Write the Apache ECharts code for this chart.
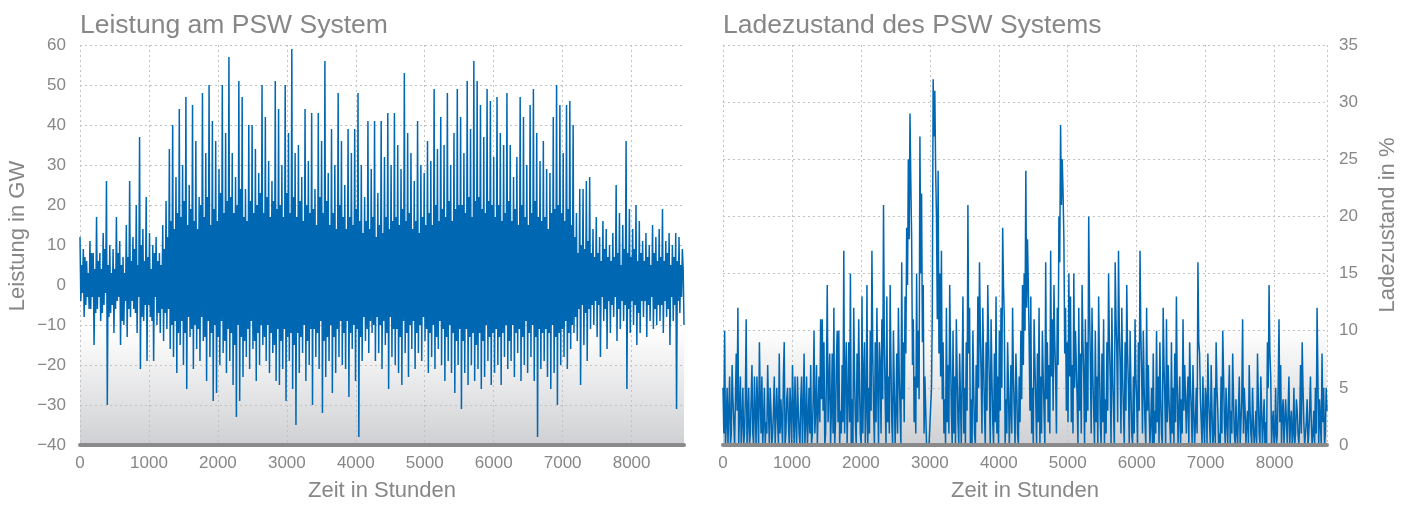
<!DOCTYPE html>
<html>
<head>
<meta charset="utf-8">
<script src="https://cdn.jsdelivr.net/npm/echarts@6/dist/echarts.min.js"></script>
<style>
  html, body { margin: 0; padding: 0; background: #fff; }
  #chart { width: 1410px; height: 507px; }
</style>
</head>
<body>
<div id="chart"></div>
<script>
// two samples per day (hour of the year)
const HOUR_STEP = 12;
const hourTicks = [0, 1000, 2000, 3000, 4000, 5000, 6000, 7000, 8000];

// Leistung am PSW System, GW (one row = 240 h)
const powerGW = [
  12,-4,5,-2,9,-8,7,-5,6,-3,3,-6,11,-6,8,-3,8,-15,4,-7,
  17,-6,6,-3,8,-9,4,-7,13,-5,9,-2,26,-30,5,-8,10,-7,3,-5,
  9,-12,4,-6,17,-4,8,-3,11,-15,5,-9,7,-10,3,-4,15,-13,7,-6,
  26,-8,6,-4,12,-6,9,-7,20,-12,5,-3,37,-21,10,-8,14,-9,6,-5,
  22,-19,7,-5,13,-8,4,-9,10,-19,8,-3,12,-10,6,-7,8,-12,5,-6,
  15,-14,9,-7,21,-11,12,-6,34,-16,16,-10,40,-18,14,-9,27,-22,18,-12,
  44,-15,17,-9,30,-20,21,-12,47,-26,15,-8,25,-13,19,-11,45,-21,16,-10,
  36,-16,14,-11,22,-19,20,-8,48,-14,17,-13,33,-24,22,-9,50,-18,15,-12,
  41,-29,19,-10,36,-27,16,-13,29,-20,23,-9,50,-17,18,-14,38,-22,21,-11,
  57,-19,22,-12,33,-25,18,-15,27,-33,20,-10,51,-29,24,-13,47,-23,17,-14,
  24,-18,16,-11,40,-21,21,-9,40,-16,18,-14,34,-24,20,-12,28,-20,23,-10,
  50,-15,18,-13,42,-19,22,-10,31,-22,17,-12,26,-17,21,-15,51,-24,19,-11,
  44,-25,20,-14,30,-21,17,-11,50,-29,23,-13,38,-19,18,-12,59,-26,22,-15,
  33,-35,17,-12,35,-22,21,-13,27,-17,16,-10,44,-24,20,-14,31,-20,18,-11,
  43,-30,19,-11,24,-18,15,-12,43,-21,22,-9,36,-32,18,-14,56,-23,21,-13,
  28,-19,15,-10,39,-27,18,-13,30,-22,14,-11,48,-18,20,-9,36,-20,17,-12,
  25,-21,14,-9,39,-28,17,-12,33,-16,15,-10,39,-24,19,-11,48,-38,16,-13,
  30,-19,13,-8,22,-14,16,-11,41,-17,14,-9,29,-12,17,-10,41,-19,12,-8,
  23,-17,15,-10,41,-21,13,-9,32,-15,17,-12,43,-26,14,-8,30,-18,16,-11,
  43,-20,17,-11,35,-22,15,-13,29,-25,19,-9,53,-17,16,-12,38,-23,18,-10,
  33,-16,14,-9,26,-21,16,-12,41,-17,13,-10,30,-19,17,-8,28,-14,15,-11,
  36,-22,18,-12,31,-18,15,-10,49,-21,20,-13,34,-16,16,-9,42,-20,19,-11,
  35,-24,17,-13,48,-19,21,-10,30,-22,16,-12,38,-27,19,-14,49,-20,20,-11,
  42,-31,20,-14,33,-22,18,-11,51,-25,22,-13,39,-20,17,-12,56,-24,21,-15,
  51,-21,22,-12,45,-26,19,-14,37,-23,18,-10,49,-19,21,-13,46,-25,20,-12,
  32,-22,17,-11,47,-20,20,-13,38,-25,16,-12,35,-18,18,-10,48,-21,21,-14,
  35,-19,16,-10,27,-23,19,-12,32,-17,15,-11,47,-24,20,-13,42,-20,17,-9,
  30,-22,15,-12,45,-18,18,-10,49,-24,21,-13,38,-38,17,-11,31,-21,16,-12,
  36,-19,17,-11,29,-23,14,-12,28,-26,18,-10,42,-22,19,-13,50,-30,20,-12,
  45,-20,18,-11,33,-18,16,-9,45,-21,19,-12,46,-16,15,-10,40,-12,12,-8,
  18,-14,8,-6,24,-25,10,-5,24,-15,9,-7,26,-19,11,-6,27,-11,8,-5,
  14,-10,7,-4,17,-13,8,-5,12,-18,6,-3,16,-9,9,-6,14,-16,7,-4,
  10,-12,6,-5,13,-8,7,-3,25,-14,8,-6,18,-11,5,-4,15,-9,9,-5,
  36,-26,8,-6,19,-12,7,-4,14,-10,9,-5,20,-15,6,-7,16,-12,8,-4,
  11,-8,6,-4,13,-13,7,-5,10,-9,5,-3,15,-11,8,-6,12,-10,6,-5,
  14,-9,7,-5,19,-12,6,-4,11,-8,8,-6,13,-15,5,-3,10,-9,7,-5,
  13,-31,6,-4,12,-7,5,-3,9,4,-10
];

// Ladezustand des PSW Systems, % (one row = 240 h)
const socPercent = [
  5,1,10,0,2,5,0,3,6,0,1,7,4,2,0,4,8,3,12,0,
  3,6,0,2,5,0,1,4,11,0,2,5,0,1,4,7,1,0,6,3,
  0,6,3,0,9,4,1,6,0,2,5,0,2,1,7,3,0,5,3,0,
  1,3,6,0,0,5,2,0,8,1,4,2,0,6,9,0,1,4,5,2,
  0,5,3,0,7,3,0,6,2,0,6,3,1,0,4,6,0,3,8,0,
  2,6,0,2,5,1,7,0,1,4,10,1,3,7,0,3,6,2,11,4,
  11,3,9,0,1,6,14,2,5,8,0,3,8,1,12,0,2,7,10,2,
  10,0,3,1,7,2,17,1,6,9,0,4,9,2,15,0,4,0,12,6,
  2,0,8,2,11,5,1,0,13,1,6,9,0,3,14,0,5,1,10,3,
  17,8,3,0,9,2,12,5,0,9,7,1,11,4,21,9,4,0,13,2,
  6,1,14,7,2,0,10,5,0,3,8,1,12,6,3,0,16,4,9,2,
  13,8,19,14,25,18,29,23,18,7,11,2,6,1,15,5,10,4,27,15,
  22,9,14,1,6,3,0,0,0,0,0,0,5,12,32,27,31,24,20,11,
  24,8,15,6,17,4,9,1,4,0,12,2,7,1,14,8,3,0,10,1,
  6,0,11,6,2,0,8,4,0,6,13,1,5,0,9,3,21,8,12,0,
  4,0,10,5,1,0,7,2,13,5,16,10,6,1,12,7,3,0,9,3,
  14,9,5,0,11,6,2,0,8,2,13,1,6,0,10,3,12,5,19,14,
  11,0,4,1,9,5,0,3,7,1,12,6,3,0,8,5,1,0,6,2,
  10,4,14,7,15,10,24,12,18,14,9,3,13,1,5,0,11,7,4,0,
  8,2,12,0,6,1,10,6,3,0,16,4,9,2,7,1,17,6,11,3,
  14,9,6,1,12,7,20,16,28,21,25,22,18,8,12,3,9,2,15,6,
  13,2,7,1,15,5,10,7,4,0,12,3,8,1,14,9,6,0,11,2,
  9,3,20,12,7,1,12,6,3,0,10,2,6,0,13,7,2,0,8,2,
  11,0,4,1,9,3,15,9,6,0,12,6,3,0,16,11,8,2,17,10,
  7,1,12,6,3,0,9,3,14,8,5,0,10,5,1,0,6,1,11,6,
  4,0,9,3,17,10,6,1,10,5,2,0,12,3,7,3,0,2,5,0,
  8,0,3,1,10,2,6,0,9,4,1,0,12,7,4,0,11,2,7,4,
  2,0,9,1,5,0,8,2,13,5,0,3,6,0,4,1,11,3,7,4,
  1,4,6,0,9,5,3,0,7,3,0,2,5,1,16,9,8,4,2,0,
  6,2,0,5,4,0,8,4,2,0,7,3,0,1,5,0,9,5,3,0,
  1,0,6,1,10,6,2,0,5,2,0,4,7,0,3,1,8,4,1,0,
  4,1,0,3,6,0,2,4,11,1,5,3,0,2,3,0,7,3,1,0,
  5,2,0,1,3,0,8,4,1,0,6,3,0,2,4,0,2,0,9,5,
  14,8,6,0,2,3,0,1,5,0,1,5,11,2,7,0,3,4,0,0,
  4,2,0,3,6,0,2,3,0,1,5,0,1,4,3,1,0,2,7,1,
  9,5,2,0,0,2,4,0,1,3,6,2,0,1,3,0,5,1,12,6,
  0,4,2,0,8,2,5,0,1,5,3
];

const hoursMax = 8760;
const textGrey = '#878787';
const lineBlue = '#0067b2';
const dotted = [2, 3];

const plotBg = {
  type: 'linear', x: 0, y: 0, x2: 0, y2: 1,
  colorStops: [
    { offset: 0, color: '#ffffff' },
    { offset: 0.71, color: '#ffffff' },
    { offset: 1, color: '#cfd0d3' }
  ]
};

const toPairs = arr => arr.map((v, i) => [i * HOUR_STEP, v]);
const minus = v => (v < 0 ? '\u2212' + Math.abs(v) : String(v));

// left chart hides the split line at 8760, right chart keeps it
const leftSplitColors = hourTicks.map(() => '#c2c2c2').concat(['rgba(0,0,0,0)']);

function timeAxis(gridIndex, splitColors) {
  return {
    gridIndex, type: 'value', min: 0, max: hoursMax, interval: 1000,
    name: 'Zeit in Stunden', nameLocation: 'middle', nameGap: 35,
    nameTextStyle: { color: textGrey, fontSize: 22 },
    axisLine: { show: false }, axisTick: { show: false },
    axisLabel: { color: textGrey, fontSize: 17, margin: 10, showMaxLabel: false,
      formatter: v => String(v) },
    splitLine: { show: true, lineStyle: { color: splitColors, type: dotted, width: 1 } }
  };
}
function baseAxis(gridIndex) {
  return {
    gridIndex, type: 'value', min: 0, max: hoursMax, position: 'bottom', z: 10,
    axisLine: { show: true, onZero: false, lineStyle: { color: '#8a8a8a', width: 4 } },
    axisTick: { show: false }, axisLabel: { show: false }, splitLine: { show: false }
  };
}

const chart = echarts.init(document.getElementById('chart'), null, { renderer: 'canvas' });
chart.setOption({
  animation: false,
  textStyle: { fontFamily: 'Liberation Sans' },
  title: [
    { text: 'Leistung am PSW System', left: 75, top: 7,
      textStyle: { color: textGrey, fontSize: 26.5, fontWeight: 'normal' } },
    { text: 'Ladezustand des PSW Systems', left: 718, top: 7,
      textStyle: { color: textGrey, fontSize: 26.5, fontWeight: 'normal' } }
  ],
  grid: [
    { left: 80, top: 45, width: 604, height: 402, show: true, borderWidth: 0, backgroundColor: plotBg },
    { left: 723, top: 45, width: 604, height: 402, show: true, borderWidth: 0, backgroundColor: plotBg }
  ],
  xAxis: [
    timeAxis(0, leftSplitColors), baseAxis(0),
    timeAxis(1, '#c2c2c2'), baseAxis(1)
  ],
  yAxis: [
    { gridIndex: 0, type: 'value', min: -40, max: 60, interval: 10,
      name: 'Leistung in GW', nameLocation: 'middle', nameGap: 51,
      nameTextStyle: { color: textGrey, fontSize: 22, padding: [0, 0, 0, 18] },
      axisLine: { show: false }, axisTick: { show: false },
      axisLabel: { color: textGrey, fontSize: 17, margin: 14, formatter: minus },
      splitLine: { lineStyle: { color: '#c2c2c2', type: dotted } } },
    { gridIndex: 1, type: 'value', min: 0, max: 35, interval: 5, position: 'right',
      name: 'Ladezustand in %', nameLocation: 'middle', nameGap: 50, nameRotate: 90,
      nameTextStyle: { color: textGrey, fontSize: 22, padding: [0, 0, 0, 40] },
      axisLine: { show: false }, axisTick: { show: false },
      axisLabel: { color: textGrey, fontSize: 17, margin: 12 },
      splitLine: { lineStyle: { color: '#c2c2c2', type: dotted } } }
  ],
  series: [
    { type: 'line', xAxisIndex: 0, yAxisIndex: 0, data: toPairs(powerGW),
      showSymbol: false, lineStyle: { color: lineBlue, width: 1.5 } },
    { type: 'line', xAxisIndex: 2, yAxisIndex: 1, data: toPairs(socPercent),
      showSymbol: false, lineStyle: { color: lineBlue, width: 1.5 } }
  ]
});
</script>
</body>
</html>
